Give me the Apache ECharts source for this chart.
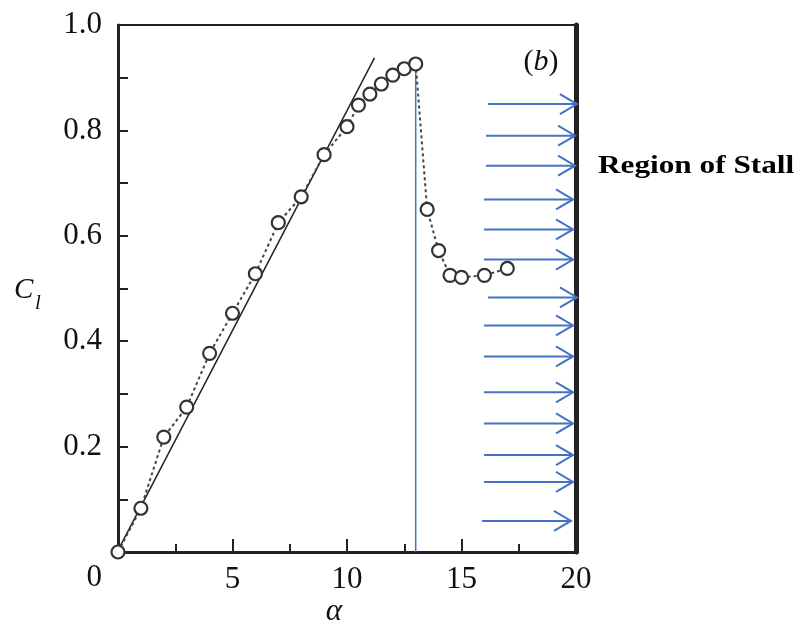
<!DOCTYPE html>
<html>
<head>
<meta charset="utf-8">
<script src="https://cdn.jsdelivr.net/npm/echarts@6/dist/echarts.min.js"></script>
<style>html,body{margin:0;padding:0;background:#fff}#c{width:802px;height:627px}</style>
</head>
<body>
<div id="c"></div>
<script>
// Measured data (angle of attack alpha in degrees, lift coefficient Cl)
var alpha = [0, 1, 2, 3, 4, 5, 6, 7, 8, 9, 10, 10.5, 11, 11.5, 12, 12.5, 13, 13.5, 14, 14.5, 15, 16, 17];
var cl    = [0.0, 0.083, 0.218, 0.275, 0.377, 0.453, 0.528, 0.625, 0.674, 0.754, 0.807, 0.848, 0.869, 0.888, 0.905, 0.917, 0.926, 0.65, 0.572, 0.525, 0.521, 0.525, 0.538];
// Linear (thin-airfoil) fit line end points
var fitAlpha = [0, 11.2];
var fitCl    = [0.003, 0.9375];
// Stall marker line
var stallAlpha = [13, 13];
var stallCl    = [0.926, 0];
// Stall region arrows
var arrowCl    = [0.850, 0.790, 0.733, 0.669, 0.612, 0.555, 0.483, 0.430, 0.371, 0.303, 0.244, 0.184, 0.133, 0.059];
var arrowStart = [16.16, 16.07, 16.07, 15.98, 15.98, 15.98, 16.16, 15.98, 15.98, 15.98, 15.98, 15.98, 15.98, 15.90];
var arrowEnd   = [20.04, 19.96, 19.96, 19.87, 19.87, 19.87, 20.04, 19.87, 19.87, 19.87, 19.87, 19.87, 19.87, 19.78];

var serif = '"Liberation Serif", "Times New Roman", serif';
var blue = '#4472C4';

function zip(a, b) { return a.map(function (v, i) { return [v, b[i]]; }); }

var chart = echarts.init(document.getElementById('c'));
chart.setOption({
  animation: false,
  backgroundColor: '#fff',
  grid: { left: 118, right: 226, top: 25, bottom: 75, containLabel: false },
  xAxis: [{
    type: 'value', min: 0, max: 20, interval: 5, position: 'bottom',
    axisLine: { onZero: false, lineStyle: { color: '#222', width: 3 } },
    axisTick: { inside: true, length: 13, lineStyle: { color: '#222', width: 2 } },
    minorTick: { show: true, splitNumber: 2, length: 8, lineStyle: { color: '#222', width: 2 } },
    splitLine: { show: false },
    axisLabel: {
      fontFamily: serif, fontSize: 31, color: '#111', margin: 12,
      formatter: function (v) { return v === 0 ? '' : String(v); }
    }
  }, {
    type: 'value', min: 0, max: 20, position: 'top',
    axisLine: { onZero: false, lineStyle: { color: '#222', width: 2 } },
    axisTick: { show: false }, axisLabel: { show: false }, splitLine: { show: false }
  }],
  yAxis: [{
    type: 'value', min: 0, max: 1, interval: 0.1, position: 'left',
    axisLine: { onZero: false, lineStyle: { color: '#222', width: 3 } },
    axisTick: { inside: true, length: 10, lineStyle: { color: '#222', width: 2 } },
    splitLine: { show: false },
    axisLabel: {
      fontFamily: serif, fontSize: 31, color: '#111', margin: 16,
      formatter: function (v) {
        var k = Math.round(v * 10);
        if (k === 0) return '{z|0}';
        if (k % 2 !== 0) return '';
        return (k / 10).toFixed(1);
      },
      rich: { z: { fontFamily: serif, fontSize: 31, color: '#111', padding: [52, 0, 0, 0] } }
    }
  }, {
    type: 'value', min: 0, max: 1, position: 'right',
    axisLine: { onZero: false, lineStyle: { color: '#222', width: 5 } },
    axisTick: { show: false }, axisLabel: { show: false }, splitLine: { show: false }
  }],
  series: [{
    type: 'line', data: zip(fitAlpha, fitCl), symbol: 'none', z: 2,
    lineStyle: { color: '#222', width: 1.5 }
  }, {
    type: 'line', data: zip(stallAlpha, stallCl), symbol: 'none', z: 3,
    lineStyle: { color: blue, width: 1.5 }
  }, {
    type: 'line', data: zip(alpha, cl), symbol: 'circle', symbolSize: 13, z: 4,
    itemStyle: { color: '#fff', borderColor: '#333', borderWidth: 2.2 },
    lineStyle: { color: '#444', width: 2, type: [3, 3] }
  }, {
    type: 'custom', clip: false, z: 5,
    data: arrowCl.map(function (y, i) { return [arrowStart[i], arrowEnd[i], y]; }),
    encode: { x: [0, 1], y: 2 },
    renderItem: function (params, api) {
      var p0 = api.coord([api.value(0), api.value(2)]);
      var p1 = api.coord([api.value(1), api.value(2)]);
      return {
        type: 'group',
        children: [{
          type: 'line',
          shape: { x1: p0[0], y1: p0[1], x2: p1[0], y2: p1[1] },
          style: { stroke: blue, lineWidth: 2 }
        }, {
          type: 'polyline',
          shape: { points: [[p1[0] - 17, p1[1] - 10], [p1[0], p1[1]], [p1[0] - 17, p1[1] + 10]] },
          style: { stroke: blue, lineWidth: 2, fill: null }
        }]
      };
    }
  }],
  graphic: [{
    type: 'text', x: 14, y: 290,
    style: { text: 'C', font: 'italic 29px ' + serif, fill: '#111', verticalAlign: 'middle' }
  }, {
    type: 'text', x: 35, y: 303,
    style: { text: 'l', font: 'italic 21px ' + serif, fill: '#111', verticalAlign: 'middle' }
  }, {
    type: 'text', x: 334, y: 612,
    style: { text: 'α', font: 'italic 31px ' + serif, fill: '#111', align: 'center', verticalAlign: 'middle' }
  }, {
    type: 'text', x: 541, y: 62,
    style: {
      text: '({b|b})', font: '30px ' + serif, fill: '#111', align: 'center', verticalAlign: 'middle',
      rich: { b: { font: 'italic 30px ' + serif, fill: '#111' } }
    }
  }, {
    type: 'text', x: 598, y: 167, scaleX: 1.25,
    style: { text: 'Region of Stall', font: 'bold 25px ' + serif, fill: '#000', verticalAlign: 'middle' }
  }]
});
</script>
</body>
</html>
